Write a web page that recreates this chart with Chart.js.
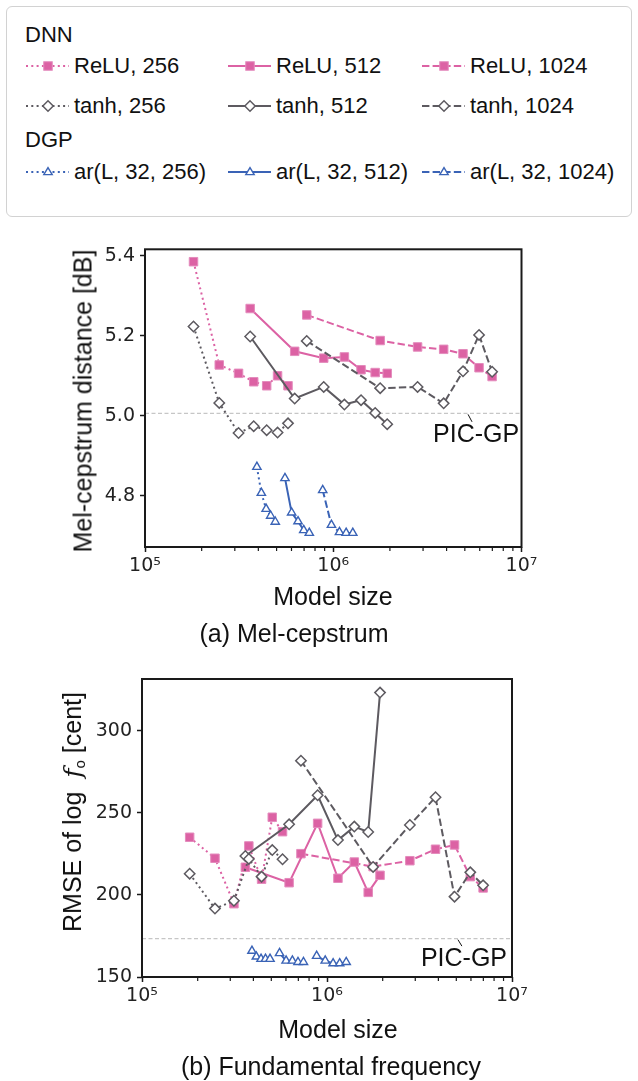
<!DOCTYPE html>
<html>
<head>
<meta charset="utf-8">
<script src="https://cdn.jsdelivr.net/npm/chart.js@4.4.0/dist/chart.umd.min.js"></script>
<style>
  body { margin: 0; width: 638px; height: 1081px; position: relative; background: #fff; overflow: hidden;
         font-family: "Liberation Sans", Arial, sans-serif; color: #111; }
  #legend { position: absolute; left: 6px; top: 6px; width: 626px; height: 211px; box-sizing: border-box;
            border: 1.5px solid #d2d2d2; border-radius: 6px; }
  .item { position: absolute; height: 24px; display: flex; align-items: center; font-size: 22px; white-space: nowrap; }
  .item svg { margin-right: 5px; }
  .lbl { position: absolute; transform: translate(-50%, -50%); white-space: nowrap; font-size: 25px; }
  .rot { transform: translate(-50%, -50%) rotate(-90deg); }
  canvas { position: absolute; left: 0; }
  sub { font-size: 15px; vertical-align: -4px; }
</style>
</head>
<body>
<div id="legend"></div>

<canvas id="mcdChart" width="638" height="430" style="top:220px"></canvas>
<div class="lbl rot" style="left:83px; top:401px">Mel-cepstrum distance [dB]</div>
<div class="lbl" style="left:333px; top:596px">Model size</div>
<div class="lbl" style="left:294px; top:633px">(a) Mel-cepstrum</div>

<canvas id="f0Chart" width="638" height="431" style="top:650px"></canvas>
<div class="lbl rot" style="left:73px; top:812px">RMSE of log&nbsp; <i style="font-family:'DejaVu Serif',serif">f</i><sub>o</sub> [cent]</div>
<div class="lbl" style="left:338px; top:1029px">Model size</div>
<div class="lbl" style="left:331px; top:1066px">(b) Fundamental frequency</div>

<script>
// x axis: model size (log)
const xTickValues = [1e5, 2e5, 3e5, 4e5, 5e5, 6e5, 7e5, 8e5, 9e5,
                     1e6, 2e6, 3e6, 4e6, 5e6, 6e6, 7e6, 8e6, 9e6, 1e7];
const xTickLabels = ['10⁵', '', '', '', '', '', '', '', '',
                     '10⁶', '', '', '', '', '', '', '', '', '10⁷'];

// model sizes of each family
const sizeW256 = [1.81e5, 2.48e5, 3.14e5, 3.78e5, 4.43e5, 5.06e5, 5.75e5];
const sizeW512 = [3.62e5, 6.24e5, 8.9e5, 1.146e6, 1.405e6, 1.67e6, 1.935e6];
const sizeW1024 = [7.23e5, 1.775e6, 2.805e6, 3.86e6, 4.89e6, 5.95e6, 6.98e6];
const sizeAr256 = [3.93e5, 4.15e5, 4.40e5, 4.65e5, 4.92e5];
const sizeAr512 = [5.54e5, 6.01e5, 6.50e5, 6.97e5, 7.46e5];
const sizeAr1024 = [8.79e5, 9.78e5, 1.079e6, 1.171e6, 1.27e6];

// (a) mel-cepstrum distance [dB]
const mcdRelu256 = [5.385, 5.127, 5.106, 5.085, 5.075, 5.100, 5.075];
const mcdRelu512 = [5.268, 5.161, 5.144, 5.147, 5.115, 5.108, 5.106];
const mcdRelu1024 = [5.252, 5.188, 5.172, 5.166, 5.155, 5.120, 5.098];
const mcdTanh256 = [5.223, 5.032, 4.957, 4.974, 4.964, 4.958, 4.981];
const mcdTanh512 = [5.198, 5.043, 5.072, 5.028, 5.039, 5.007, 4.979];
const mcdTanh1024 = [5.187, 5.069, 5.072, 5.031, 5.111, 5.202, 5.110];
const mcdAr256 = [4.872, 4.807, 4.767, 4.750, 4.735];
const mcdAr512 = [4.844, 4.758, 4.736, 4.714, 4.707];
const mcdAr1024 = [4.814, 4.727, 4.709, 4.707, 4.707];
const mcdPicGp = 5.006;
const mcdTicks = [4.8, 5.0, 5.2, 5.4];

// (b) RMSE of log F0 [cent]
const f0Relu256 = [235.2, 222.4, 194.7, 229.9, 209.6, 247.4, 238.6];
const f0Relu512 = [216.9, 207.5, 243.7, 210.2, 220.1, 201.6, 212.0];
const f0Relu1024 = [225.2, 217.3, 220.9, 227.9, 230.5, 211.2, 204.3];
const f0Tanh256 = [213.0, 191.7, 196.5, 222.0, 211.2, 227.4, 221.8];
const f0Tanh512 = [223.8, 243.1, 260.8, 233.5, 241.7, 238.4, 323.4];
const f0Tanh1024 = [281.9, 217.1, 242.7, 259.6, 199.0, 213.8, 205.9];
const f0Ar256 = [165.9, 162.4, 161.0, 161.0, 161.0];
const f0Ar512 = [164.5, 159.9, 159.9, 159.1, 159.1];
const f0Ar1024 = [162.8, 159.9, 158.3, 158.3, 159.1];
const f0PicGp = 173.4;
const f0Ticks = [150, 200, 250, 300];

const PINK = '#dc62a4', GRAY = '#5d5a60', BLUE = '#3a63b6';
const families = {
  relu: { color: PINK, point: 'rect', radius: 6, fill: PINK, edge: '#e48cbd', edgeWidth: 1, order: 2 },
  tanh: { color: GRAY, point: 'rectRot', radius: 5.2, fill: '#fff', edge: GRAY, edgeWidth: 1.5, order: 1 },
  ar:   { color: BLUE, point: 'triangle', radius: 4.8, fill: '#fff', edge: BLUE, edgeWidth: 1.4, order: 3 }
};
const dashes = { 256: [2, 3.3], 512: [], 1024: [7.4, 3.2] };

function pts(xs, ys) { return xs.map((x, i) => ({ x: x, y: ys[i] })); }

function series(label, fam, width, xs, ys) {
  const f = families[fam];
  return {
    label: label, data: pts(xs, ys),
    borderColor: f.color, borderWidth: 2, borderDash: dashes[width],
    pointStyle: f.point, pointRadius: f.radius, pointBackgroundColor: f.fill,
    pointBorderColor: f.edge, pointBorderWidth: f.edgeWidth, order: f.order, tension: 0
  };
}

function picLine(v) {
  return { label: 'PIC-GP', data: [{ x: 1e5, y: v }, { x: 1e7, y: v }], borderColor: '#c6c6c6',
           borderWidth: 1.2, borderDash: [4, 2.5], pointRadius: 0, order: 9 };
}

// spines and minor x ticks
const framePlugin = {
  id: 'frame',
  afterDraw(chart) {
    const { ctx, chartArea: a, scales: { x } } = chart;
    ctx.save();
    ctx.strokeStyle = '#1a1a1a';
    ctx.lineWidth = 2;
    ctx.strokeRect(a.left, a.top, a.right - a.left, a.bottom - a.top);
    ctx.lineWidth = 1.2;
    x.ticks.forEach(t => {
      if (t.major) return;
      const px = x.getPixelForValue(t.value);
      ctx.beginPath(); ctx.moveTo(px, a.bottom + 1); ctx.lineTo(px, a.bottom + 4); ctx.stroke();
    });
    ctx.restore();
  }
};

// "PIC-GP" annotation
const picPlugin = {
  id: 'picLabel',
  afterDatasetsDraw(chart, args, opts) {
    const { ctx, scales: { x, y } } = chart;
    const px = x.getPixelForValue(opts.x), py = y.getPixelForValue(opts.y);
    ctx.save();
    ctx.strokeStyle = '#111'; ctx.lineWidth = 1;
    ctx.beginPath(); ctx.moveTo(px, py + 1); ctx.lineTo(px + 4, py + opts.lead); ctx.stroke();
    ctx.fillStyle = '#111';
    ctx.font = '25px "Liberation Sans", Arial, sans-serif';
    ctx.textAlign = 'left'; ctx.textBaseline = 'middle';
    ctx.fillText('PIC-GP', px + opts.dx, py + opts.dy);
    ctx.restore();
  }
};

const tickFont = { family: 'DejaVu Sans', size: 19 };

function makeChart(id, datasets, cfg) {
  return new Chart(document.getElementById(id), {
    type: 'line',
    data: { datasets: datasets },
    plugins: [framePlugin, picPlugin],
    options: {
      responsive: false,
      animation: false,
      layout: { padding: { left: 0, top: cfg.top, right: cfg.right, bottom: cfg.bottom } },
      plugins: { legend: { display: false }, tooltip: { enabled: false }, picLabel: cfg.pic },
      scales: {
        x: {
          type: 'logarithmic', min: 1e5, max: 1e7,
          afterBuildTicks: s => { s.ticks = xTickValues.map((v, i) => ({ value: v, major: xTickLabels[i] !== '' })); },
          afterFit: s => { s.height = 70; },
          border: { display: false },
          grid: { drawOnChartArea: false, tickLength: 5, tickWidth: 1.5,
                  tickColor: c => (c.tick && c.tick.major) ? '#1a1a1a' : 'rgba(0,0,0,0)' },
          ticks: { autoSkip: false, maxRotation: 0, padding: 3, color: '#222', font: tickFont,
                   callback: (v, i) => xTickLabels[i] }
        },
        y: {
          min: cfg.yMin, max: cfg.yMax,
          afterBuildTicks: s => { s.ticks = cfg.yTicks.map(v => ({ value: v })); },
          afterFit: s => { s.width = cfg.left; },
          border: { display: false },
          grid: { drawOnChartArea: false, tickLength: 5, tickWidth: 1.5, tickColor: '#1a1a1a' },
          ticks: { padding: 5, color: '#222', font: tickFont, callback: cfg.yFmt }
        }
      }
    }
  });
}

makeChart('mcdChart', [
  series('ReLU, 256', 'relu', 256, sizeW256, mcdRelu256),
  series('ReLU, 512', 'relu', 512, sizeW512, mcdRelu512),
  series('ReLU, 1024', 'relu', 1024, sizeW1024, mcdRelu1024),
  series('tanh, 256', 'tanh', 256, sizeW256, mcdTanh256),
  series('tanh, 512', 'tanh', 512, sizeW512, mcdTanh512),
  series('tanh, 1024', 'tanh', 1024, sizeW1024, mcdTanh1024),
  series('ar(L, 32, 256)', 'ar', 256, sizeAr256, mcdAr256),
  series('ar(L, 32, 512)', 'ar', 512, sizeAr512, mcdAr512),
  series('ar(L, 32, 1024)', 'ar', 1024, sizeAr1024, mcdAr1024),
  picLine(mcdPicGp)
], { top: 29.3, right: 116.5, bottom: 33, left: 145, yMin: 4.672, yMax: 5.416, yTicks: mcdTicks,
     yFmt: v => v.toFixed(1), pic: { x: 5.2e6, y: mcdPicGp, dx: -35, dy: 22, lead: 8.5 } });

makeChart('f0Chart', [
  series('ReLU, 256', 'relu', 256, sizeW256, f0Relu256),
  series('ReLU, 512', 'relu', 512, sizeW512, f0Relu512),
  series('ReLU, 1024', 'relu', 1024, sizeW1024, f0Relu1024),
  series('tanh, 256', 'tanh', 256, sizeW256, f0Tanh256),
  series('tanh, 512', 'tanh', 512, sizeW512, f0Tanh512),
  series('tanh, 1024', 'tanh', 1024, sizeW1024, f0Tanh1024),
  series('ar(L, 32, 256)', 'ar', 256, sizeAr256, f0Ar256),
  series('ar(L, 32, 512)', 'ar', 512, sizeAr512, f0Ar512),
  series('ar(L, 32, 1024)', 'ar', 1024, sizeAr1024, f0Ar1024),
  picLine(f0PicGp)
], { top: 29, right: 126, bottom: 34, left: 142, yMin: 150, yMax: 331.7, yTicks: f0Ticks,
     yFmt: v => String(v), pic: { x: 5.1e6, y: f0PicGp, dx: -37, dy: 20, lead: 7.5 } });

// legend (HTML)
const legendRows = [
  { y: 66, fam: 'relu', names: ['ReLU, 256', 'ReLU, 512', 'ReLU, 1024'] },
  { y: 106, fam: 'tanh', names: ['tanh, 256', 'tanh, 512', 'tanh, 1024'] },
  { y: 172, fam: 'ar', names: ['ar(L, 32, 256)', 'ar(L, 32, 512)', 'ar(L, 32, 1024)'] }
];
const legendHeads = [{ y: 35, text: 'DNN' }, { y: 140, text: 'DGP' }];
const colLeft = [26, 228, 422];
const widths = [256, 512, 1024];

function sampleSvg(fam, width) {
  const f = families[fam];
  const dash = dashes[width].length ? ` stroke-dasharray="${dashes[width].join(' ')}"` : '';
  let mk = '';
  if (f.point === 'rect') mk = `<rect x="17.75" y="7.75" width="8.5" height="8.5" fill="${f.fill}" stroke="${f.edge}" stroke-width="1"/>`;
  else if (f.point === 'rectRot') mk = `<polygon points="16.8,12 22,6.8 27.2,12 22,17.2" fill="#fff" stroke="${f.edge}" stroke-width="1.5"/>`;
  else mk = `<polygon points="22,7.6 17.8,14.6 26.2,14.6" fill="#fff" stroke="${f.edge}" stroke-width="1.4"/>`;
  return `<svg width="43" height="24"><line x1="0" y1="12" x2="43" y2="12" stroke="${f.color}" stroke-width="2"${dash}/>${mk}</svg>`;
}

const legend = document.body;
legendHeads.forEach(h => {
  const d = document.createElement('div');
  d.className = 'item';
  d.style.left = '25px'; d.style.top = (h.y - 12) + 'px';
  d.textContent = h.text;
  legend.appendChild(d);
});
legendRows.forEach(r => {
  r.names.forEach((name, c) => {
    const d = document.createElement('div');
    d.className = 'item';
    d.style.left = colLeft[c] + 'px'; d.style.top = (r.y - 12) + 'px';
    d.innerHTML = sampleSvg(r.fam, widths[c]) + '<span>' + name + '</span>';
    legend.appendChild(d);
  });
});
</script>
</body>
</html>
